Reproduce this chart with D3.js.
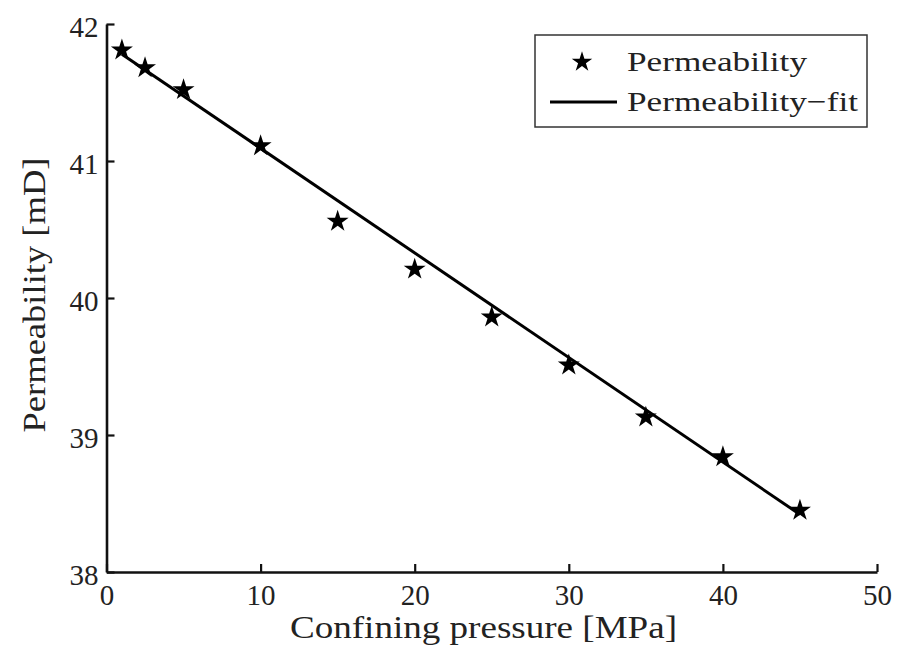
<!DOCTYPE html>
<html><head><meta charset="utf-8">
<script src="https://cdn.jsdelivr.net/npm/d3@7"></script>
<style>body{margin:0;background:#fff}svg{display:block}text{font-family:"Liberation Serif","Times New Roman",serif;fill:#222}</style>
</head><body><svg id="c" width="903" height="654"></svg>
<script>
const pressure = [1, 2.5, 5, 10, 15, 20, 25, 30, 35, 40, 45];
const permeability = [41.81, 41.68, 41.52, 41.11, 40.56, 40.21, 39.86, 39.51, 39.13, 38.84, 38.45];
const fitX = [1, 45];
const fitY = [41.78, 38.42];
const xTicks = [0, 10, 20, 30, 40, 50];
const yTicks = [38, 39, 40, 41, 42];

const svg = d3.select("#c");
const x = d3.scaleLinear().domain([0, 50]).range([106.5, 877]);
const y = d3.scaleLinear().domain([38, 42]).range([572, 24]);

// axes
const xa = svg.append("g").attr("transform", `translate(0,${y(38)})`)
  .call(d3.axisBottom(x).tickValues(xTicks).tickFormat(d3.format("d")).tickSize(-8).tickSizeOuter(0).tickPadding(14));
const ya = svg.append("g").attr("transform", `translate(${x(0)},0)`)
  .call(d3.axisLeft(y).tickValues(yTicks).tickFormat(d3.format("d")).tickSize(-8).tickSizeOuter(0).tickPadding(8));
[xa, ya].forEach(a => {
  a.attr("font-family", null).attr("font-size", null);
  a.select(".domain").attr("stroke", "#111").attr("stroke-width", 2.6);
  a.selectAll(".tick line").attr("stroke", "#111").attr("stroke-width", 2.2);
  a.selectAll(".tick text").attr("font-size", 29).attr("fill", "#222");
});
xa.selectAll(".tick text").attr("dy", "0.66em");
ya.selectAll(".tick text").attr("dy", "0.42em");

// fit line
svg.append("path")
  .attr("d", d3.line().x((d, i) => x(fitX[i])).y(d => y(d))(fitY))
  .attr("stroke", "#000").attr("stroke-width", 3).attr("fill", "none");

// points
const star = d3.symbol().type(d3.symbolStar).size(150);
svg.append("g").selectAll("path").data(pressure).join("path")
  .attr("d", star)
  .attr("transform", (d, i) => `translate(${x(d)},${y(permeability[i])})`)
  .attr("fill", "#000");

// axis titles
svg.append("text").attr("x", 483.5).attr("y", 638).attr("text-anchor", "middle")
  .attr("font-size", 31).attr("textLength", 387).attr("lengthAdjust", "spacingAndGlyphs")
  .text("Confining pressure [MPa]");
svg.append("text").attr("transform", "translate(45,295) rotate(-90)").attr("text-anchor", "middle")
  .attr("font-size", 32).attr("textLength", 275).attr("lengthAdjust", "spacingAndGlyphs")
  .text("Permeability [mD]");

// legend
const lg = svg.append("g");
lg.append("rect").attr("x", 535).attr("y", 35).attr("width", 332).attr("height", 92)
  .attr("fill", "#fff").attr("stroke", "#333").attr("stroke-width", 1.5);
lg.append("path").attr("d", d3.symbol().type(d3.symbolStar).size(130))
  .attr("transform", "translate(582,62)").attr("fill", "#000");
lg.append("line").attr("x1", 550).attr("x2", 617).attr("y1", 102).attr("y2", 102)
  .attr("stroke", "#000").attr("stroke-width", 3);
lg.append("text").attr("x", 627).attr("y", 71).attr("font-size", 28)
  .attr("textLength", 180).attr("lengthAdjust", "spacingAndGlyphs").text("Permeability");
lg.append("text").attr("x", 627).attr("y", 111).attr("font-size", 28)
  .attr("textLength", 231).attr("lengthAdjust", "spacingAndGlyphs").text("Permeability\u2212fit");
</script></body></html>
